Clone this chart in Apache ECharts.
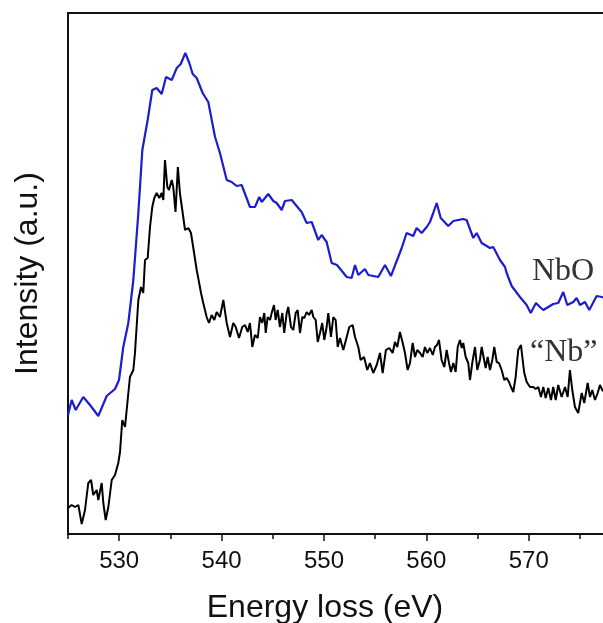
<!DOCTYPE html>
<html>
<head>
<meta charset="utf-8">
<script src="https://cdn.jsdelivr.net/npm/echarts@6/dist/echarts.min.js"></script>
<style>
html, body { margin: 0; padding: 0; background: #fff; }
#chart { width: 603px; height: 623px; }
</style>
</head>
<body>
<div id="chart"></div>
<script>
// energy loss (eV), intensity (a.u.)
var nboSpectrum = [
  [525.0, 119], [525.36, 134], [525.75, 124], [526.49, 137], [527.15, 129], [527.96, 118],
  [528.78, 138], [529.59, 145], [529.98, 154], [530.40, 187], [530.89, 211], [531.38, 254],
  [531.87, 321], [532.26, 384], [532.78, 414], [533.23, 444], [533.66, 446], [534.15, 440],
  [534.57, 457], [535.13, 454], [535.62, 466], [536.01, 470], [536.46, 481], [536.85, 471],
  [537.18, 460], [537.57, 456], [538.15, 441], [538.70, 432], [539.36, 397], [539.84, 381],
  [540.50, 354], [540.98, 352], [541.47, 348], [541.96, 349], [542.77, 327], [543.26, 327],
  [543.68, 337], [543.92, 332], [544.56, 340], [545.05, 333], [545.38, 331], [545.87, 324],
  [546.19, 333], [546.85, 334], [547.49, 326], [547.82, 322], [548.31, 311], [548.80, 312],
  [549.44, 294], [549.77, 299], [550.26, 292], [550.75, 271], [551.27, 269], [552.22, 257],
  [552.70, 256], [553.03, 269], [553.35, 259], [554.00, 265], [554.33, 259], [555.30, 257],
  [555.96, 269], [556.54, 258], [557.59, 286], [558.07, 301], [558.72, 298], [559.05, 306],
  [559.54, 301], [560.03, 307], [560.35, 312], [560.67, 321], [561.01, 331], [561.40, 316],
  [562.14, 308], [562.63, 313], [563.60, 315], [563.93, 314], [564.58, 296], [564.91, 301],
  [565.40, 291], [566.21, 286], [566.53, 287], [567.19, 274], [567.68, 267], [567.84, 261],
  [568.33, 248], [569.14, 237], [569.79, 229], [570.19, 221], [570.70, 231], [571.09, 227],
  [571.42, 224], [572.39, 230], [572.88, 231], [573.37, 242], [573.76, 229], [574.35, 232],
  [574.67, 236], [575.00, 229], [575.49, 232], [575.91, 224], [576.63, 238], [577.12, 237],
  [577.6, 236]
];

var nbSpectrum = [
  [525.0, 26], [525.36, 29], [525.68, 27], [526.01, 29], [526.34, 10], [526.66, 24],
  [526.98, 51], [527.25, 54], [527.47, 39], [527.80, 44], [527.96, 34], [528.29, 51],
  [528.45, 31], [528.68, 14], [528.94, 27], [529.27, 54], [529.59, 59], [529.91, 71],
  [530.08, 82], [530.30, 114], [530.57, 107], [530.73, 124], [531.05, 157], [531.38, 164],
  [531.54, 181], [531.87, 234], [532.13, 247], [532.35, 241], [532.52, 274], [532.78, 276],
  [533.01, 307], [533.23, 327], [533.43, 336], [533.66, 341], [533.92, 336], [534.15, 341],
  [534.31, 334], [534.47, 374], [534.70, 347], [534.86, 344], [535.13, 354], [535.28, 347],
  [535.50, 322], [535.73, 367], [535.94, 340], [536.16, 324], [536.43, 304], [536.75, 306],
  [537.01, 301], [537.24, 286], [537.57, 264], [537.72, 256], [537.99, 241], [538.21, 231],
  [538.54, 217], [538.77, 211], [539.03, 219], [539.29, 214], [539.52, 222], [539.84, 217],
  [540.17, 234], [540.50, 211], [540.82, 197], [541.14, 211], [541.38, 207], [541.70, 196],
  [542.02, 207], [542.29, 209], [542.55, 202], [542.77, 211], [543.00, 187], [543.26, 199],
  [543.53, 196], [543.75, 217], [543.97, 211], [544.17, 221], [544.31, 201], [544.50, 217],
  [544.73, 214], [544.89, 221], [545.12, 229], [545.28, 214], [545.48, 224], [545.70, 207],
  [545.93, 221], [546.12, 201], [546.36, 221], [546.51, 227], [546.78, 207], [547.00, 204],
  [547.24, 221], [547.43, 224], [547.66, 201], [547.88, 217], [548.08, 216], [548.31, 222],
  [548.54, 219], [548.80, 224], [548.96, 217], [549.19, 214], [549.39, 192], [549.61, 201],
  [549.83, 211], [550.03, 194], [550.26, 207], [550.42, 221], [550.68, 197], [550.91, 217],
  [551.14, 214], [551.34, 187], [551.56, 196], [551.89, 184], [552.22, 197], [552.47, 207],
  [552.80, 209], [553.03, 197], [553.35, 187], [553.58, 174], [553.91, 177], [554.23, 164],
  [554.49, 171], [554.81, 161], [555.15, 169], [555.47, 181], [555.73, 161], [556.05, 184],
  [556.38, 186], [556.71, 181], [556.93, 192], [557.16, 187], [557.42, 202], [557.69, 191],
  [557.91, 181], [558.17, 164], [558.40, 171], [558.66, 191], [558.89, 177], [559.11, 184],
  [559.38, 181], [559.64, 177], [559.86, 187], [560.09, 181], [560.35, 186], [560.62, 179],
  [560.84, 187], [561.04, 189], [561.23, 194], [561.49, 174], [561.75, 167], [561.98, 184],
  [562.21, 171], [562.40, 162], [562.63, 171], [562.86, 162], [563.06, 187], [563.28, 194],
  [563.45, 186], [563.60, 191], [563.84, 177], [564.09, 171], [564.26, 154], [564.48, 171],
  [564.75, 187], [564.97, 164], [565.23, 174], [565.40, 187], [565.56, 189], [565.79, 166],
  [565.99, 177], [566.21, 164], [566.44, 174], [566.63, 187], [566.87, 172], [567.09, 171],
  [567.35, 164], [567.61, 154], [567.84, 156], [568.07, 152], [568.26, 147], [568.49, 142],
  [568.72, 157], [568.97, 184], [569.24, 189], [569.37, 177], [569.56, 161], [569.80, 152],
  [570.12, 147], [570.44, 147], [570.67, 145], [570.93, 147], [571.19, 137], [571.42, 147],
  [571.65, 136], [571.90, 146], [572.17, 134], [572.39, 147], [572.63, 134], [572.88, 149],
  [573.21, 137], [573.54, 147], [573.80, 137], [574.02, 164], [574.25, 144], [574.51, 127],
  [574.83, 121], [575.17, 141], [575.42, 131], [575.75, 151], [575.98, 137], [576.20, 144],
  [576.47, 134], [576.73, 141], [576.95, 149], [577.18, 144], [577.6, 140]
];

var majorTicks = [530, 540, 550, 560, 570];
var minorTicks = [525, 535, 545, 555, 565, 575];
var seriesNames = ['NbO', '\u201cNb\u201d'];

var chart = echarts.init(document.getElementById('chart'), null, { renderer: 'canvas' });

var axisFont = 'Liberation Sans, Arial, sans-serif';
var xMin = 525;
var xMax = 577.25; // the figure is cropped at the right edge

chart.setOption({
  animation: false,
  backgroundColor: '#fff',
  grid: {
    left: 68,
    right: 0,
    top: 13,
    bottom: 89,
    outerBoundsMode: 'none',
    show: false
  },
  xAxis: [{
    type: 'value',
    min: xMin,
    max: xMax,
    name: 'Energy loss (eV)',
    nameLocation: 'middle',
    nameGap: 58,
    nameTextStyle: {
      fontFamily: axisFont,
      fontSize: 32,
      color: '#111',
      padding: [0, 21, 0, 0]
    },
    axisLine: { show: true, lineStyle: { color: '#111', width: 2 } },
    axisTick: { show: true, customValues: majorTicks, length: 7, inside: false, lineStyle: { color: '#111', width: 1.5 } },
    axisLabel: { customValues: majorTicks, fontFamily: axisFont, fontSize: 24, color: '#111', margin: 15 },
    splitLine: { show: false }
  }, {
    // minor ticks
    type: 'value',
    position: 'bottom',
    min: xMin,
    max: xMax,
    axisLine: { show: false },
    axisTick: { show: true, customValues: minorTicks, length: 5, lineStyle: { color: '#111', width: 1.5 } },
    axisLabel: { show: false },
    splitLine: { show: false }
  }, {
    // top frame line
    type: 'value',
    position: 'top',
    min: xMin,
    max: xMax,
    axisLine: { show: true, lineStyle: { color: '#111', width: 2 } },
    axisTick: { show: false },
    axisLabel: { show: false },
    splitLine: { show: false }
  }],
  yAxis: {
    type: 'value',
    min: 0,
    max: 521,
    name: 'Intensity (a.u.)',
    nameLocation: 'middle',
    nameGap: 24,
    nameTextStyle: { fontFamily: axisFont, fontSize: 32, color: '#111' },
    axisLine: { show: true, lineStyle: { color: '#111', width: 2 } },
    axisTick: { show: false },
    axisLabel: { show: false },
    splitLine: { show: false }
  },
  series: [{
    name: seriesNames[0],
    type: 'line',
    data: nboSpectrum,
    showSymbol: false,
    lineStyle: { color: '#1c1cd0', width: 2.2 }
  }, {
    name: seriesNames[1],
    type: 'line',
    data: nbSpectrum,
    showSymbol: false,
    lineStyle: { color: '#000', width: 2 }
  }],
  graphic: [{
    type: 'text',
    left: 532,
    top: 256,
    style: { text: seriesNames[0], font: '32px "Liberation Serif", "Times New Roman", serif', fill: '#333' }
  }, {
    type: 'text',
    left: 530,
    top: 337,
    style: { text: seriesNames[1], font: '32px "Liberation Serif", "Times New Roman", serif', fill: '#333' }
  }]
});
</script>
</body>
</html>
